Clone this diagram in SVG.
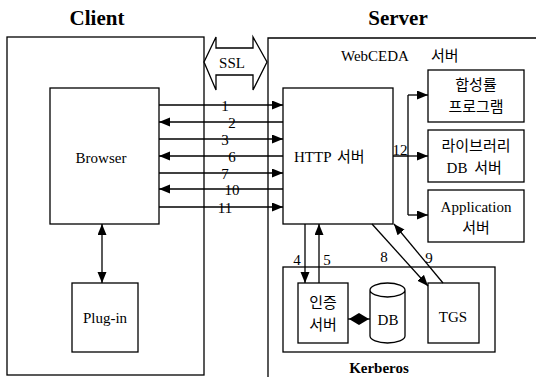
<svg xmlns="http://www.w3.org/2000/svg" width="536" height="377" viewBox="0 0 536 377">
<style>
.b{fill:none;stroke:#000;stroke-width:1.3}
.w{fill:#fff;stroke:#000;stroke-width:1.3}
.l{fill:none;stroke:#000;stroke-width:1.3}
.t{font-family:"Liberation Serif",serif;font-size:15px;fill:#000}
.h{font-family:"Liberation Serif",serif;font-size:21px;font-weight:bold;fill:#000}
.k{font-family:"Noto Sans CJK KR",sans-serif;font-size:15px;fill:#000}
.n{font-family:"Liberation Serif",serif;font-size:15px;fill:#000;text-anchor:middle}
</style>
<defs>
<marker id="a" markerUnits="userSpaceOnUse" markerWidth="12" markerHeight="10" refX="11" refY="4.5" orient="auto-start-reverse">
<path d="M0,0 L11,4.5 L0,9 z" fill="#000"/>
</marker>
</defs>
<text class="h" x="97" y="25" text-anchor="middle">Client</text>
<text class="h" x="398" y="25" text-anchor="middle">Server</text>
<g id="client"><rect class="b" x="7" y="37" width="197" height="338"/></g>
<g id="server"><path class="b" d="M536,38 H268 V377"/>
<text x="341" y="61" class="t">WebCEDA</text><text x="431" y="61" class="k" font-size="16">서버</text></g>
<g id="ssl"><polygon class="w" points="204,62 216,37 216,48 253,48 253,37 267,62 253,90 253,75 216,75 216,90"/>
<text class="t" x="232" y="68" text-anchor="middle" font-size="14">SSL</text></g>
<g id="browser"><rect class="w" x="50" y="88" width="109" height="136"/><text class="t" x="101" y="163" text-anchor="middle">Browser</text></g>
<g id="plugin"><rect class="w" x="72" y="283" width="66" height="69"/><text class="t" x="105" y="323" text-anchor="middle">Plug-in</text></g>
<g id="http"><rect class="w" x="283" y="88" width="110" height="136"/><text class="t" x="294" y="162">HTTP</text><text class="k" x="337" y="162" font-size="16">서버</text></g>
<g id="synth"><rect class="w" x="428" y="70" width="96" height="52"/><text class="k" x="476" y="90" text-anchor="middle" font-size="16">합성률</text><text class="k" x="476" y="112" text-anchor="middle">프로그램</text></g>
<g id="libdb"><rect class="w" x="428" y="130" width="96" height="52"/><text class="k" x="476" y="151" text-anchor="middle">라이브러리</text><text class="t" x="457" y="173" text-anchor="middle">DB</text><text class="k" x="488" y="173" text-anchor="middle">서버</text></g>
<g id="app"><rect class="w" x="428" y="190" width="96" height="52"/><text class="t" x="476" y="212" text-anchor="middle">Application</text><text class="k" x="476" y="233" text-anchor="middle">서버</text></g>
<g id="kerberos"><rect class="b" x="283" y="267" width="212" height="85"/><text class="t" x="379" y="373" text-anchor="middle" font-weight="bold">Kerberos</text></g>
<g id="auth"><rect class="w" x="298" y="283" width="50" height="60"/><text class="k" x="323" y="308" text-anchor="middle">인증</text><text class="k" x="323" y="330" text-anchor="middle">서버</text></g>
<g id="db"><path class="w" d="M370,290 V336 A17.5,7 0 0 0 405,336 V290 A17.5,7 0 0 0 370,290 A17.5,7 0 0 0 405,290"/><text class="t" x="388" y="325" text-anchor="middle">DB</text></g>
<g id="tgs"><rect class="w" x="428" y="283" width="51" height="60"/><text class="t" x="453" y="322" text-anchor="middle">TGS</text></g>
<g id="connectors">
<line class="l" x1="159" y1="105" x2="283" y2="105" marker-end="url(#a)"/>
<line class="l" x1="283" y1="122" x2="159" y2="122" marker-end="url(#a)"/>
<line class="l" x1="159" y1="139" x2="283" y2="139" marker-end="url(#a)"/>
<line class="l" x1="283" y1="156" x2="159" y2="156" marker-end="url(#a)"/>
<line class="l" x1="159" y1="173" x2="283" y2="173" marker-end="url(#a)"/>
<line class="l" x1="283" y1="189" x2="159" y2="189" marker-end="url(#a)"/>
<line class="l" x1="159" y1="207" x2="283" y2="207" marker-end="url(#a)"/>
<text class="n" x="225" y="111">1</text>
<text class="n" x="232" y="128">2</text>
<text class="n" x="225" y="145">3</text>
<text class="n" x="232" y="162">6</text>
<text class="n" x="225" y="179">7</text>
<text class="n" x="232" y="195">10</text>
<text class="n" x="225" y="213">11</text>
<line class="l" x1="102" y1="224" x2="102" y2="283" marker-start="url(#a)" marker-end="url(#a)"/>
<path class="l" d="M393,156 H408 M408,95 V215"/>
<line class="l" x1="408" y1="95" x2="428" y2="95" marker-end="url(#a)"/>
<line class="l" x1="408" y1="156" x2="428" y2="156" marker-end="url(#a)"/>
<line class="l" x1="408" y1="215" x2="428" y2="215" marker-end="url(#a)"/>
<text class="n" x="400" y="155">12</text>
<line class="l" x1="305" y1="224" x2="305" y2="283" marker-end="url(#a)"/>
<line class="l" x1="319" y1="283" x2="319" y2="224" marker-end="url(#a)"/>
<text class="n" x="297" y="265">4</text>
<text class="n" x="327" y="265">5</text>
<line class="l" x1="372" y1="224" x2="428" y2="286" marker-end="url(#a)"/>
<line class="l" x1="443" y1="283" x2="394" y2="224" marker-end="url(#a)"/>
<text class="n" x="384" y="262">8</text>
<text class="n" x="429" y="263">9</text>
<line class="l" x1="348" y1="319" x2="370" y2="319"/>
<polygon points="349,319 359,313 369,319 359,325" fill="#000"/>
</g>
</svg>
